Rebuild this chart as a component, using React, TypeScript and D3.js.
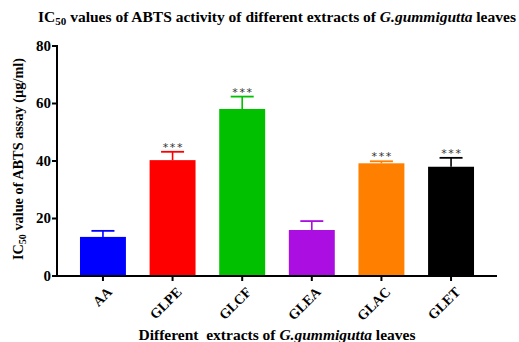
import React from "react";
import * as d3 from "d3";

const categories = ["AA", "GLPE", "GLCF", "GLEA", "GLAC", "GLET"];
const means = [13.6, 40.3, 58.1, 16.0, 39.2, 38.0];
const errors = [2.1, 2.9, 4.3, 3.1, 0.7, 3.1];
const significance = ["", "***", "***", "", "***", "***"];
const colors = ["#0000FF", "#FF0000", "#00C000", "#AA0EE0", "#FF8000", "#000000"];
const yTicks = [0, 20, 40, 60, 80];

const W = 519;
const H = 342;
const left = 57;
const right = 497;
const top = 46;
const bottom = 276;

export default function App() {
  const x = d3.scalePoint<string>().domain(categories).range([left, right]).padding(0.66);
  const y = d3.scaleLinear().domain([0, 80]).range([bottom, top]);
  const barW = x.step() * 0.66;
  const font = "'Liberation Serif', 'Times New Roman', serif";

  return (
    <svg width={W} height={H} style={{ position: "absolute", left: 0, top: 0 }} fontFamily={font}>
      <rect width={W} height={H} fill="#fff" />
      {/* title */}
      <text x={277} y={22} textAnchor="middle" fontSize={15.5} fontWeight="bold">
        IC<tspan fontSize={11} dy={3}>50</tspan>
        <tspan dy={-3}> values of ABTS activity of different extracts of </tspan>
        <tspan fontStyle="italic">G.gummigutta</tspan> leaves
      </text>

      {/* bars */}
      {categories.map((c, i) => {
        const cx = x(c)!;
        const yTop = y(means[i]);
        const yErr = y(means[i] + errors[i]);
        return (
          <g key={c}>
            <rect x={cx - barW / 2} y={yTop} width={barW} height={bottom - yTop} fill={colors[i]} />
            <line x1={cx} x2={cx} y1={yTop} y2={yErr} stroke={colors[i]} strokeWidth={1.6} />
            <line x1={cx - 11.5} x2={cx + 11.5} y1={yErr} y2={yErr} stroke={colors[i]} strokeWidth={1.8} />
            {significance[i] && (
              <text
                x={cx + 0.8}
                y={yErr - 1}
                textAnchor="middle"
                fontSize={11}
                letterSpacing={1.6}
                fontFamily="'DejaVu Sans', sans-serif"
                fill="#333"
              >
                {significance[i]}
              </text>
            )}
          </g>
        );
      })}

      {/* y axis */}
      <line x1={left} x2={left} y1={top - 1} y2={bottom + 1} stroke="#000" strokeWidth={2} />
      {yTicks.map((t) => (
        <g key={t}>
          <line x1={left - 5} x2={left} y1={y(t)} y2={y(t)} stroke="#000" strokeWidth={2} />
          <text x={left - 6} y={y(t)} dy="0.33em" textAnchor="end" fontSize={15} fontWeight="bold">
            {t}
          </text>
        </g>
      ))}
      <text
        transform={`translate(23,${(top + bottom) / 2 - 2}) rotate(-90)`}
        textAnchor="middle"
        fontSize={14.3}
        fontWeight="bold"
      >
        IC<tspan fontSize={10} dy={3}>50</tspan>
        <tspan dy={-3}> value of ABTS assay (µg/ml)</tspan>
      </text>

      {/* x axis */}
      <line x1={left - 1} x2={right} y1={bottom} y2={bottom} stroke="#000" strokeWidth={2} />
      {categories.map((c) => (
        <g key={c}>
          <line x1={x(c)!} x2={x(c)!} y1={bottom} y2={bottom + 5} stroke="#000" strokeWidth={2} />
          <text
            transform={`translate(${x(c)! + 3},${bottom + 10}) rotate(-45)`}
            textAnchor="end"
            dy="0.7em"
            fontSize={14}
            fontWeight="bold"
          >
            {c}
          </text>
        </g>
      ))}
      <text x={277} y={340} textAnchor="middle" fontSize={15.5} fontWeight="bold" style={{ whiteSpace: "pre" }}>
        {"Different  extracts of "}
        <tspan fontStyle="italic">G.gummigutta</tspan> leaves
      </text>
    </svg>
  );
}
